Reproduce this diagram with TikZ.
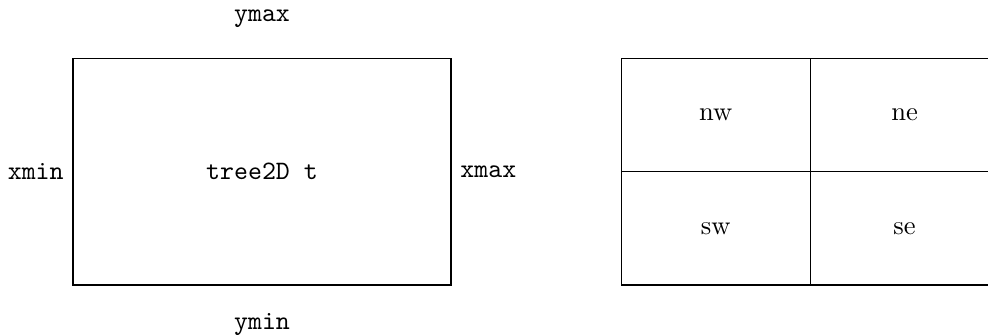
\documentclass[tikz,border=0pt]{standalone}
\usepackage{tikz}

\begin{document}
\begin{tikzpicture}
\useasboundingbox (-0.966, -0.661) rectangle (12.103, 3.77);
% tree bounds
\draw (0, 0) rectangle (5, 3);
\node (tree) at (2.5, 1.5) {\texttt{tree2D t}};
\node (ymax) at (2.5, 3.52) {\texttt{ymax}};
\node (ymin) at (2.5, -0.52) {\texttt{ymin}};
\node [left] (xmin) at (0, 1.5) {\texttt{xmin}};
\node [right] (xmax) at (5, 1.5) {\texttt{xmax}};
% quadrants
\draw (7.25, 0) rectangle +(5, 3);
\draw (9.75, 0) -- (9.75, 3);
\draw (7.25, 1.5) -- (12.25, 1.5);
\node (nw) at (8.5, 2.25) {nw};
\node (ne) at (11, 2.25) {ne};
\node (sw) at (8.5, 0.75) {sw};
\node (se) at (11, 0.75) {se};
\end{tikzpicture}
\end{document}
